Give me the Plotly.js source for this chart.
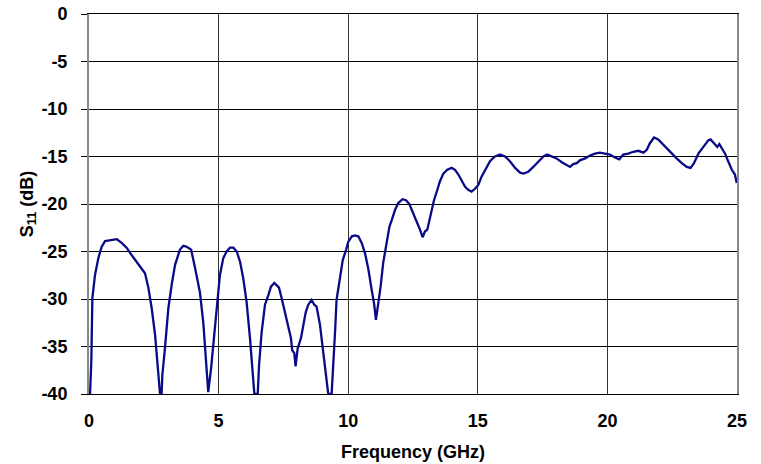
<!DOCTYPE html>
<html>
<head>
<meta charset="utf-8">
<script src="https://cdn.plot.ly/plotly-3.0.1.min.js"></script>
<style>html,body{margin:0;padding:0;background:#fff;}#chart{width:761px;height:464px;}</style>
</head>
<body>
<div id="chart"></div>
<script>
const freqGHz = [0.04,0.09,0.13,0.23,0.36,0.49,0.62,0.81,1.07,1.26,1.45,1.65,1.84,2.03,2.16,2.29,2.42,2.55,2.67,2.74,2.80,2.83,2.93,3.06,3.19,3.32,3.51,3.64,3.77,3.94,4.09,4.28,4.41,4.54,4.60,4.71,4.86,4.99,5.05,5.18,5.31,5.44,5.57,5.70,5.83,5.95,6.08,6.21,6.30,6.38,6.51,6.56,6.66,6.79,6.92,7.02,7.15,7.24,7.33,7.43,7.56,7.69,7.79,7.84,7.92,7.97,8.05,8.18,8.27,8.36,8.46,8.59,8.69,8.78,8.91,9.04,9.17,9.23,9.36,9.43,9.50,9.55,9.66,9.79,9.92,10.00,10.14,10.26,10.39,10.52,10.65,10.78,10.91,11.00,11.07,11.16,11.25,11.35,11.46,11.59,11.68,11.81,11.93,12.10,12.23,12.36,12.51,12.67,12.77,12.87,12.96,13.05,13.16,13.31,13.44,13.54,13.67,13.82,13.99,14.12,14.25,14.38,14.51,14.63,14.76,14.89,15.02,15.15,15.28,15.47,15.66,15.86,16.05,16.24,16.44,16.63,16.76,16.95,17.14,17.34,17.53,17.68,17.85,18.04,18.24,18.43,18.56,18.68,18.82,18.94,19.14,19.33,19.52,19.71,19.91,20.10,20.29,20.46,20.61,20.80,21.00,21.19,21.39,21.52,21.64,21.80,21.96,22.13,22.29,22.48,22.67,22.87,23.06,23.21,23.34,23.51,23.70,23.89,23.98,24.11,24.24,24.32,24.41,24.54,24.66,24.80,24.92,24.99];
const s11dB = [-40,-36.5,-29.9,-27.5,-25.7,-24.5,-23.9,-23.8,-23.7,-24.1,-24.6,-25.4,-26.1,-26.7,-27.3,-28.8,-31.0,-33.8,-38.0,-40,-40,-38.0,-35.2,-31.0,-28.5,-26.4,-24.8,-24.4,-24.5,-24.8,-26.7,-29.3,-32.5,-37.3,-39.8,-37.3,-33.0,-30.0,-27.5,-25.7,-25.0,-24.6,-24.6,-25.0,-26.1,-27.8,-30.3,-34.1,-37.7,-40,-40,-37.0,-33.5,-30.6,-29.6,-28.7,-28.3,-28.5,-28.8,-29.9,-31.4,-32.7,-34.1,-35.4,-35.7,-37.1,-35.2,-34.1,-32.7,-31.4,-30.6,-30.1,-30.6,-30.8,-32.7,-35.6,-38.7,-40,-40,-37.0,-33.1,-30.1,-28.3,-25.9,-24.8,-24.0,-23.4,-23.3,-23.4,-24.1,-25.2,-26.9,-29.1,-30.5,-32.2,-30.5,-28.7,-26.2,-24.5,-22.4,-21.7,-20.6,-19.9,-19.5,-19.6,-20.0,-21.0,-22.0,-22.7,-23.5,-22.9,-22.7,-21.3,-19.6,-18.5,-17.6,-16.8,-16.4,-16.2,-16.4,-16.9,-17.5,-18.2,-18.5,-18.7,-18.4,-18.0,-17.1,-16.4,-15.5,-15.0,-14.8,-15.0,-15.5,-16.2,-16.7,-16.8,-16.6,-16.1,-15.5,-15.0,-14.8,-15.0,-15.2,-15.6,-15.9,-16.1,-15.8,-15.7,-15.4,-15.2,-14.9,-14.7,-14.6,-14.7,-14.8,-15.1,-15.3,-14.8,-14.7,-14.5,-14.4,-14.6,-14.3,-13.6,-13.0,-13.2,-13.7,-14.1,-14.7,-15.2,-15.7,-16.1,-16.2,-15.7,-14.7,-14.0,-13.3,-13.2,-13.6,-14.0,-13.7,-14.1,-14.7,-15.5,-16.4,-16.9,-17.8];
const xTicks = [0,5,10,15,20,25];
const yTicks = [0,-5,-10,-15,-20,-25,-30,-35,-40];

const fam = 'Liberation Sans, Arial, sans-serif';

Plotly.newPlot('chart', [{
  x: freqGHz, y: s11dB, type: 'scatter', mode: 'lines',
  line: {color: '#0a0a88', width: 2.3},
  hoverinfo: 'skip'
}], {
  width: 761, height: 464,
  margin: {l: 89, r: 24, t: 14, b: 70, pad: 0},
  paper_bgcolor: '#fff', plot_bgcolor: '#fff',
  showlegend: false,
  font: {family: fam, size: 18, color: '#000'},
  xaxis: {
    range: [0, 25], tickvals: xTicks, ticktext: xTicks.map(String),
    showgrid: true, gridcolor: '#333', gridwidth: 1,
    zeroline: false, showline: true, linecolor: '#000', linewidth: 1, mirror: true,
    ticks: '', ticklabelstandoff: 10,
    tickfont: {family: fam, size: 18, color: '#000', weight: 'bold'},
    title: {text: '<b>Frequency (GHz)</b>', font: {family: fam, size: 18, color: '#000'}},
    automargin: false
  },
  yaxis: {
    range: [-40, 0], tickvals: yTicks, ticktext: yTicks.map(String),
    showgrid: true, gridcolor: '#000', gridwidth: 1,
    zeroline: false, showline: true, linecolor: '#888', linewidth: 2, mirror: true,
    ticks: 'outside', ticklen: 6, tickcolor: '#000', tickwidth: 1, ticklabelstandoff: 10,
    tickfont: {family: fam, size: 18, color: '#000', weight: 'bold'},
    title: {text: '<b>S<sub>11</sub> (dB)</b>', font: {family: fam, size: 18, color: '#000'}},
    automargin: false
  }
}, {staticPlot: true, displayModeBar: false});
</script>
</body>
</html>
